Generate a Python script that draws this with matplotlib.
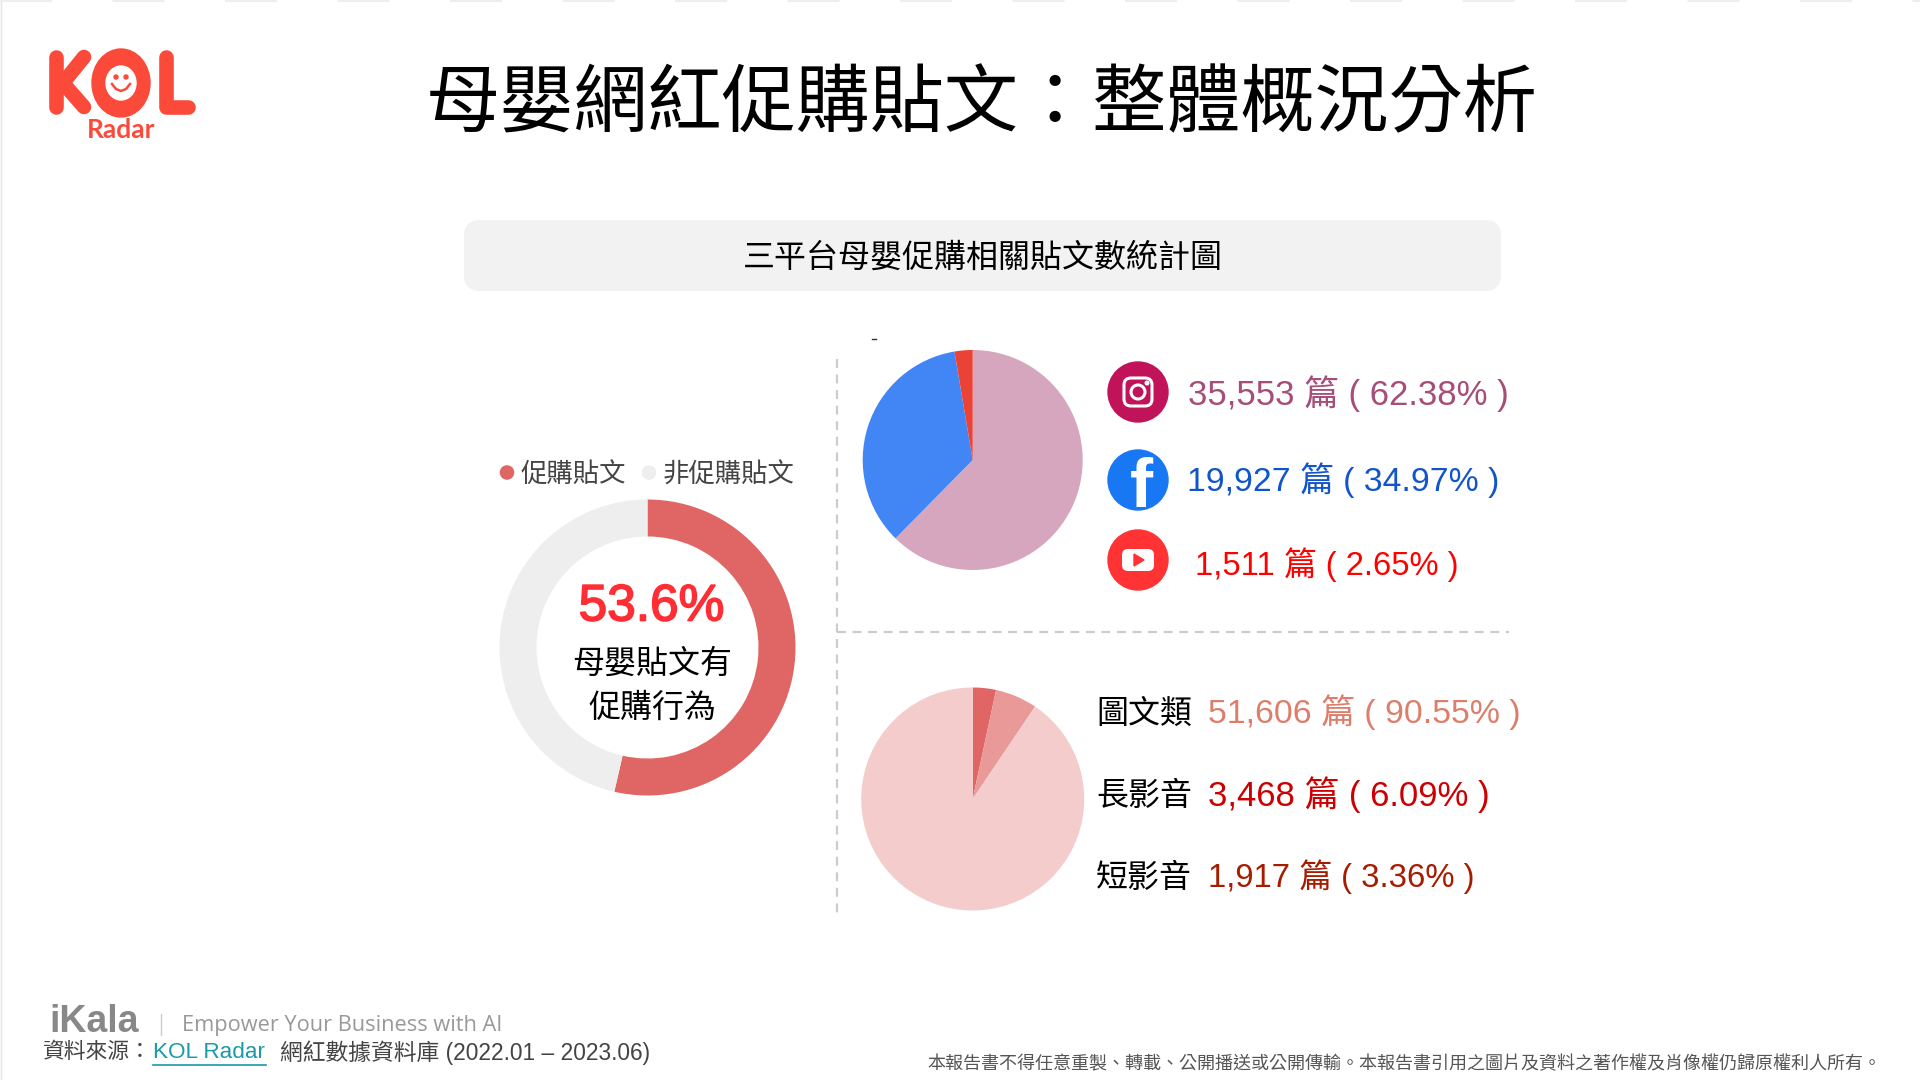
import matplotlib
matplotlib.use("Agg")
import matplotlib.pyplot as plt
import matplotlib.patheffects as pe
from matplotlib.patches import Circle, Ellipse, FancyBboxPatch, Polygon

plt.rcParams['font.family'] = ['Liberation Sans', 'Noto Sans CJK TC', 'DejaVu Sans']

# data
donut_labels = ['促購貼文', '非促購貼文']
donut_values = [53.6, 46.4]
donut_colors = ['#e06666', '#eeeeee']

platform_values = [35553, 19927, 1511]
platform_colors = ['#d5a6bd', '#4285f4', '#ea4335']
platform_texts = ['35,553 篇 ( 62.38% )', '19,927 篇 ( 34.97% )', '1,511 篇 ( 2.65% )']
platform_text_colors = ['#a64d79', '#1155cc', '#ff0000']

# clockwise from the top: short video, long video, image posts
format_values = [1917, 3468, 51606]
format_colors = ['#e06666', '#ea9999', '#f4cccc']
format_names = ['圖文類', '長影音', '短影音']
format_texts = ['51,606 篇 ( 90.55% )', '3,468 篇 ( 6.09% )', '1,917 篇 ( 3.36% )']
format_text_colors = ['#dd7e6b', '#cc0000', '#a61c00']

fig = plt.figure(figsize=(19.2, 10.8), dpi=100)
ax = fig.add_axes([0, 0, 1, 1])


def Y(py):
    # picture pixels count from the top
    return 1080 - py


def label(x, y, s, size, color='black', ha='left', **kw):
    return ax.text(x, Y(y), s, fontsize=size, color=color, ha=ha, va='center', **kw)


# page edges
ax.plot([1, 1], [0, 1080], color='#e4e4e4', lw=1)
ax.plot([0, 1920], [Y(1), Y(1)], color='#eeeeee', lw=1.5, dashes=(25, 29))

# KOL logo
red = '#fb4a3a'
ax.plot([56, 56], [Y(57), Y(107)], color=red, lw=10.5, solid_capstyle='round')
ax.plot([84, 63, 84], [Y(57), Y(83), Y(107)], color=red, lw=10.5,
        solid_capstyle='round', solid_joinstyle='round')
ax.add_patch(Ellipse((121, Y(83)), 58, 68, color=red))
ax.add_patch(Ellipse((121, Y(83)), 30, 34, color='white'))
ax.add_patch(Circle((116, Y(77)), 2, color=red))
ax.add_patch(Circle((126, Y(77)), 2, color=red))
ax.plot([112, 116, 121, 126, 130], [Y(84), Y(89), Y(91), Y(89), Y(84)], color=red, lw=1.8)
ax.plot([166, 166, 188], [Y(57), Y(107), Y(107)], color=red, lw=10.5,
        solid_capstyle='round', solid_joinstyle='round')
label(121, 130, 'Radar', 19, red, ha='center', fontweight='bold', family='Lato')

label(981.5, 106.5, '母嬰網紅促購貼文：整體概況分析', 53.4, ha='center')

ax.add_patch(FancyBboxPatch((464, Y(291)), 1037, 71, boxstyle='round,pad=0,rounding_size=16',
                            fc='#f2f2f2', ec='none'))
label(982.5, 258.5, '三平台母嬰促購相關貼文數統計圖', 23, ha='center')

# donut
ax.pie(donut_values, colors=donut_colors, startangle=90, counterclock=False,
       center=(647.5, Y(647.5)), radius=148, wedgeprops=dict(width=37))
ax.scatter([507, 649], [Y(472.5), Y(472.5)], s=110, c=donut_colors, linewidths=0)
label(521, 475, donut_labels[0], 19, '#444444')
label(663, 475, donut_labels[1], 19, '#444444')
big = label(651.5, 607, '53.6%', 37, '#ff2d34', ha='center')
big.set_path_effects([pe.withStroke(linewidth=1.2, foreground='#ff2d34')])
label(652, 665, '母嬰貼文有', 23, ha='center')
label(652, 709, '促購行為', 23, ha='center')

# separators
ax.plot([837, 837], [Y(359), Y(913)], color='#cccccc', lw=1.6, dashes=(4, 3))
ax.plot([837, 1509], [Y(632), Y(632)], color='#cccccc', lw=1.6, dashes=(4, 3))
ax.plot([872, 876], [Y(339), Y(339)], color='#333333', lw=1)

# platform pie
ax.pie(platform_values, colors=platform_colors, startangle=90, counterclock=False,
       center=(972.7, Y(460)), radius=110)
for x, y, size, s, c in zip([1188, 1187, 1195], [394, 480.5, 564.5], [25, 24.3, 23.6],
                            platform_texts, platform_text_colors):
    label(x, y, s, size, c)

# platform icons
ax.add_patch(Circle((1138, Y(392)), 30, color='#c0135a'))
ax.add_patch(FancyBboxPatch((1124, Y(406)), 28, 28, boxstyle='round,pad=0,rounding_size=7',
                            fc='none', ec='white', lw=2.2))
ax.add_patch(Circle((1138, Y(392)), 7, fc='none', ec='white', lw=2.2))
ax.add_patch(Circle((1147, Y(383)), 1.8, color='white'))

ax.add_patch(Circle((1138, Y(480)), 30, color='#1877f2'))
fb = ax.text(1141, Y(489), 'f', fontsize=50, color='white', ha='center', va='center',
             fontweight='bold')
fb.set_clip_path(Circle((1138, Y(480)), 30, transform=ax.transData))

ax.add_patch(Circle((1138, Y(560)), 30, color='#ff3333'))
ax.add_patch(FancyBboxPatch((1122, Y(571)), 32, 22, boxstyle='round,pad=0,rounding_size=6',
                            fc='white', ec='white', lw=0))
ax.add_patch(Polygon([(1134, Y(554)), (1134, Y(566)), (1144, Y(560))], color='#ff3333'))

# format pie
ax.pie(format_values, colors=format_colors, startangle=90, counterclock=False,
       center=(972.7, Y(799)), radius=111.5)
for y, name in zip([715, 797, 878.5], format_names):
    label(1096, y, name, 23)
for y, size, s, c in zip([712.5, 794.5, 877], [24.4, 25, 23.7], format_texts, format_text_colors):
    label(1208, y, s, size, c)

# footer
label(49, 1021.5, 'iKala', 27, '#888888', fontweight='bold')
ax.plot([161, 161], [Y(1014), Y(1035)], color='#cccccc', lw=1)
label(182, 1025.5, 'Empower Your Business with AI', 15.7, '#999999', family='Open Sans')
label(43, 1053, '資料來源：', 15.7, '#444444')
label(153, 1053, 'KOL Radar', 16.2, '#1a9aa6')
ax.plot([153, 266], [Y(1065), Y(1065)], color='#1a9aa6', lw=1.2)
label(280, 1053, '網紅數據資料庫 (2022.01 – 2023.06)', 16.4, '#444444')
label(1881, 1064.5, '本報告書不得任意重製、轉載、公開播送或公開傳輸。本報告書引用之圖片及資料之著作權及肖像權仍歸原權利人所有。',
      13, '#555555', ha='right')

# pie() resets the limits, so set them last
ax.set_xlim(0, 1920)
ax.set_ylim(0, 1080)
ax.axis('off')

fig.savefig('out.png', dpi=100, facecolor='white')
